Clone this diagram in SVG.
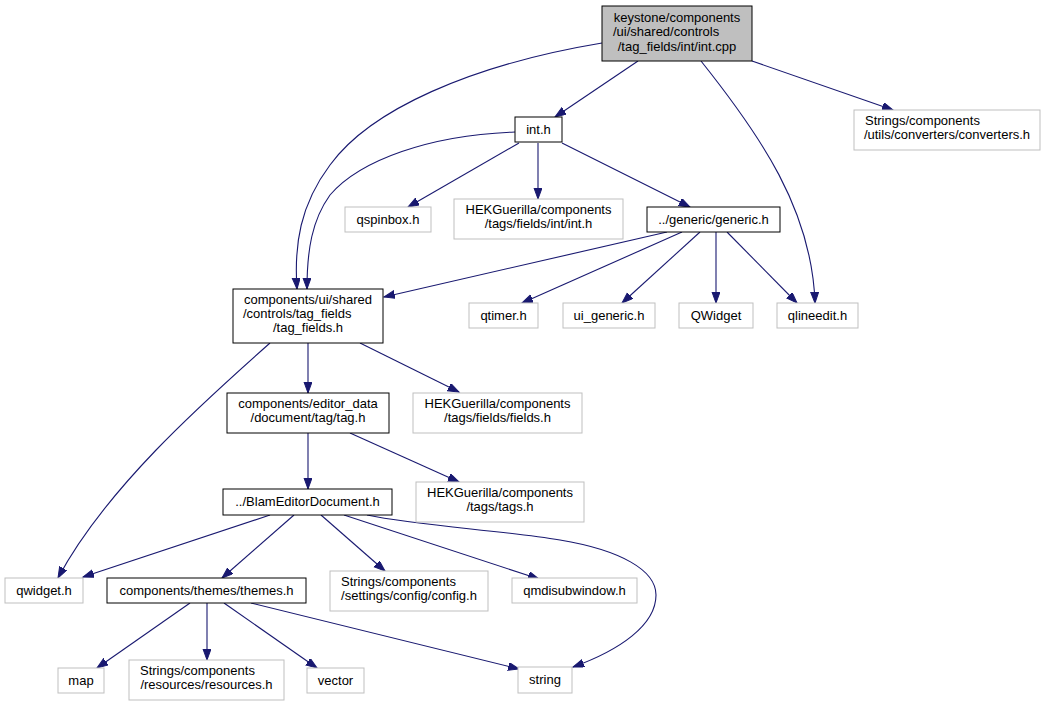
<svg xmlns="http://www.w3.org/2000/svg" width="1047" height="707" viewBox="0 0 1047 707">
<style>
text{font-family:"Liberation Sans",Arial,sans-serif;font-size:13px;fill:#000}
.c{text-anchor:middle}
.s{text-anchor:start}
.doc{fill:#fff;stroke:#000;stroke-width:1}
.root{fill:#bfbfbf;stroke:#000;stroke-width:1}
.ext{fill:#fff;stroke:#bfbfbf;stroke-width:1}
.e{fill:none;stroke:#191970;stroke-width:1.1;marker-end:url(#ah)}
</style>
<defs>
<marker id="ah" markerUnits="userSpaceOnUse" markerWidth="13" markerHeight="10" refX="11" refY="4" orient="auto">
<path d="M0,0 L11,4 L0,8 z" fill="#191970" stroke="#191970" stroke-width="1"/>
</marker>
</defs>
<rect width="1047" height="707" fill="#fff"/>
<g id="edges">
<path class="e" d="M638,61 L555,117"/>
<path class="e" d="M602,43 C470,65 370,110 330,165 C300,205 294,245 297,289"/>
<path class="e" d="M515,132 C430,135 360,160 330,195 C312,220 307,250 307,289"/>
<path class="e" d="M752,61 L893,110"/>
<path class="e" d="M701,61 C760,135 812,210 815,303"/>
<path class="e" d="M519,143 L408,207"/>
<path class="e" d="M538,143 L538,199"/>
<path class="e" d="M562,143 L690,207"/>
<path class="e" d="M667,232 L384,297"/>
<path class="e" d="M682,232 L522,303"/>
<path class="e" d="M700,232 L622,303"/>
<path class="e" d="M716,232 L716,303"/>
<path class="e" d="M727,232 L797,303"/>
<path class="e" d="M270,343 C200,405 105,490 58,578"/>
<path class="e" d="M308,343 L308,393"/>
<path class="e" d="M360,343 L459,392"/>
<path class="e" d="M308,433 L308,489"/>
<path class="e" d="M350,433 L459,482"/>
<path class="e" d="M270,515 L83,577"/>
<path class="e" d="M294,515 L222,578"/>
<path class="e" d="M321,515 L385,571"/>
<path class="e" d="M344,515 L539,579"/>
<path class="e" d="M367,515 C420,526 500,530 560,540 C620,550 656,570 656,595 C656,625 620,650 573,667"/>
<path class="e" d="M190,603 L97,668"/>
<path class="e" d="M207,603 L207,660"/>
<path class="e" d="M224,603 L317,668"/>
<path class="e" d="M251,603 L519,669"/>
</g>
<g id="n_int_cpp"><rect class="root" x="602" y="6" width="150" height="55"/>
<text class="c" x="677" y="21.5">keystone/components</text>
<text class="s" x="613" y="36">/ui/shared/controls</text>
<text class="c" x="677" y="50.5">/tag_fields/int/int.cpp</text></g>
<g id="n_int_h"><rect class="doc" x="515" y="117" width="47" height="25"/><text class="c" x="538.5" y="134">int.h</text></g>
<g id="n_converters"><rect class="ext" x="854" y="110" width="186" height="40"/>
<text class="s" x="865" y="125">Strings/components</text>
<text class="c" x="947" y="139">/utils/converters/converters.h</text></g>
<g id="n_tag_fields"><rect class="doc" x="233" y="289" width="150" height="54"/>
<text class="c" x="308" y="304">components/ui/shared</text>
<text class="s" x="243" y="318">/controls/tag_fields</text>
<text class="c" x="308" y="332">/tag_fields.h</text></g>
<g id="n_qlineedit"><rect class="ext" x="777" y="303" width="81" height="25"/><text class="c" x="817.5" y="320">qlineedit.h</text></g>
<g id="n_qspinbox"><rect class="ext" x="345" y="207" width="86" height="25"/><text class="c" x="388" y="224">qspinbox.h</text></g>
<g id="n_hek_int"><rect class="ext" x="454" y="199" width="169" height="40"/>
<text class="c" x="538.5" y="214">HEKGuerilla/components</text>
<text class="c" x="538.5" y="228">/tags/fields/int/int.h</text></g>
<g id="n_generic"><rect class="doc" x="647" y="207" width="133" height="25"/><text class="c" x="713.5" y="224">../generic/generic.h</text></g>
<g id="n_qtimer"><rect class="ext" x="469" y="303" width="69" height="25"/><text class="c" x="503.5" y="320">qtimer.h</text></g>
<g id="n_ui_generic"><rect class="ext" x="563" y="303" width="92" height="25"/><text class="c" x="609" y="320">ui_generic.h</text></g>
<g id="n_QWidget"><rect class="ext" x="679" y="303" width="74" height="25"/><text class="c" x="716" y="320">QWidget</text></g>
<g id="n_qwidget_h"><rect class="ext" x="5" y="578" width="78" height="25"/><text class="c" x="44" y="595">qwidget.h</text></g>
<g id="n_tag_h"><rect class="doc" x="227" y="393" width="162" height="40"/>
<text class="c" x="308" y="408">components/editor_data</text>
<text class="c" x="308" y="422">/document/tag/tag.h</text></g>
<g id="n_fields"><rect class="ext" x="413" y="393" width="169" height="40"/>
<text class="c" x="497.5" y="408">HEKGuerilla/components</text>
<text class="c" x="497.5" y="422">/tags/fields/fields.h</text></g>
<g id="n_blam"><rect class="doc" x="223" y="489" width="169" height="26"/><text class="c" x="307.5" y="506">../BlamEditorDocument.h</text></g>
<g id="n_tags"><rect class="ext" x="416" y="482" width="168" height="40"/>
<text class="c" x="500" y="497">HEKGuerilla/components</text>
<text class="c" x="500" y="511">/tags/tags.h</text></g>
<g id="n_themes"><rect class="doc" x="107" y="578" width="199" height="25"/><text class="c" x="206.5" y="595">components/themes/themes.h</text></g>
<g id="n_config"><rect class="ext" x="330" y="571" width="158" height="40"/>
<text class="s" x="341" y="586">Strings/components</text>
<text class="c" x="409" y="600">/settings/config/config.h</text></g>
<g id="n_qmdi"><rect class="ext" x="512" y="578" width="125" height="25"/><text class="c" x="574.5" y="595">qmdisubwindow.h</text></g>
<g id="n_string"><rect class="ext" x="518" y="667" width="54" height="26"/><text class="c" x="545" y="684">string</text></g>
<g id="n_map"><rect class="ext" x="58" y="668" width="46" height="25"/><text class="c" x="81" y="685">map</text></g>
<g id="n_resources"><rect class="ext" x="129" y="660" width="155" height="40"/>
<text class="s" x="140" y="675">Strings/components</text>
<text class="c" x="206.5" y="689">/resources/resources.h</text></g>
<g id="n_vector"><rect class="ext" x="307" y="668" width="57" height="25"/><text class="c" x="335.5" y="685">vector</text></g>
</svg>
